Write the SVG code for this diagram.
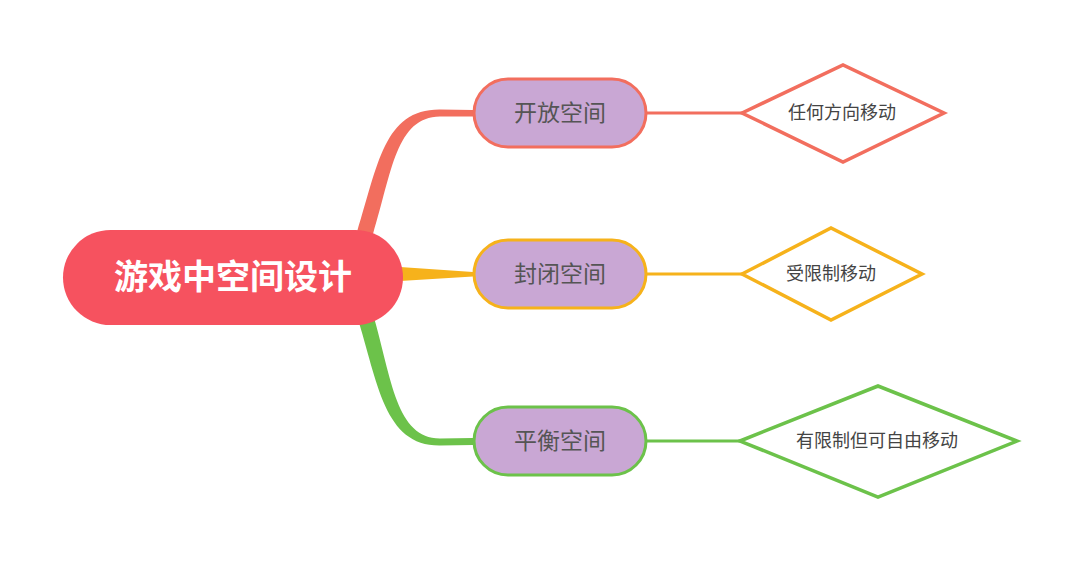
<svg xmlns="http://www.w3.org/2000/svg" width="1080" height="563" viewBox="0 0 1080 563">
<style>
.cn{font-family:"Liberation Sans","Noto Sans CJK SC",sans-serif;text-anchor:middle;dominant-baseline:central}
.root{fill:#F6525F}
.roott{font-size:34px;font-weight:bold;fill:#FFFFFF}
.child{fill:#C9A7D4;stroke-width:3}
.childt{font-size:23px;fill:#555555}
.dia{fill:#FFFFFF;stroke-width:3.5}
.diat{font-size:18px;fill:#444444}
.ln{fill:none;stroke-width:3}
</style>
<rect width="1080" height="563" fill="#FFFFFF"/>
<g id="connectors">
<path d="M357 232 C378 165 384 109 440 109.5 L473 110 L473 116.5 L440 116.5 C396 117 392 172 373 234 Z" fill="#F26E5E"/>
<path d="M400 267 L473 272 L473 276.5 L400 281 Z" fill="#F6B21B"/>
<path d="M357 316 C378 383 384 446 440 445.5 L473 445 L473 438 L440 438.5 C396 438 392 380 373 314 Z" fill="#6CC24A"/>
<line class="ln" x1="647" y1="113" x2="742" y2="113" stroke="#F26E5E"/>
<line class="ln" x1="647" y1="274" x2="742" y2="274" stroke="#F6B21B"/>
<line class="ln" x1="647" y1="441" x2="740" y2="441" stroke="#6CC24A"/>
</g>
<g id="root">
<rect class="root" x="63" y="230" width="340" height="95" rx="47.5"/>
<text class="cn roott" x="233" y="277">游戏中空间设计</text>
</g>
<g id="n-open">
<rect class="child" x="474" y="79" width="172" height="68" rx="34" stroke="#F26E5E"/>
<text class="cn childt" x="560" y="113">开放空间</text>
</g>
<g id="n-closed">
<rect class="child" x="474" y="240" width="172" height="68" rx="34" stroke="#F6B21B"/>
<text class="cn childt" x="560" y="274">封闭空间</text>
</g>
<g id="n-balance">
<rect class="child" x="474" y="407" width="172" height="68" rx="34" stroke="#6CC24A"/>
<text class="cn childt" x="560" y="441">平衡空间</text>
</g>
<g id="d-open">
<polygon class="dia" points="742,113 843,65 944,113 843,162" stroke="#F26E5E"/>
<text class="cn diat" x="842" y="113">任何方向移动</text>
</g>
<g id="d-closed">
<polygon class="dia" points="742,274 831,228 922,274 831,320" stroke="#F6B21B"/>
<text class="cn diat" x="831" y="274">受限制移动</text>
</g>
<g id="d-balance">
<polygon class="dia" points="740,441 878,386 1017,441 878,497" stroke="#6CC24A"/>
<text class="cn diat" x="877" y="441">有限制但可自由移动</text>
</g>
</svg>
